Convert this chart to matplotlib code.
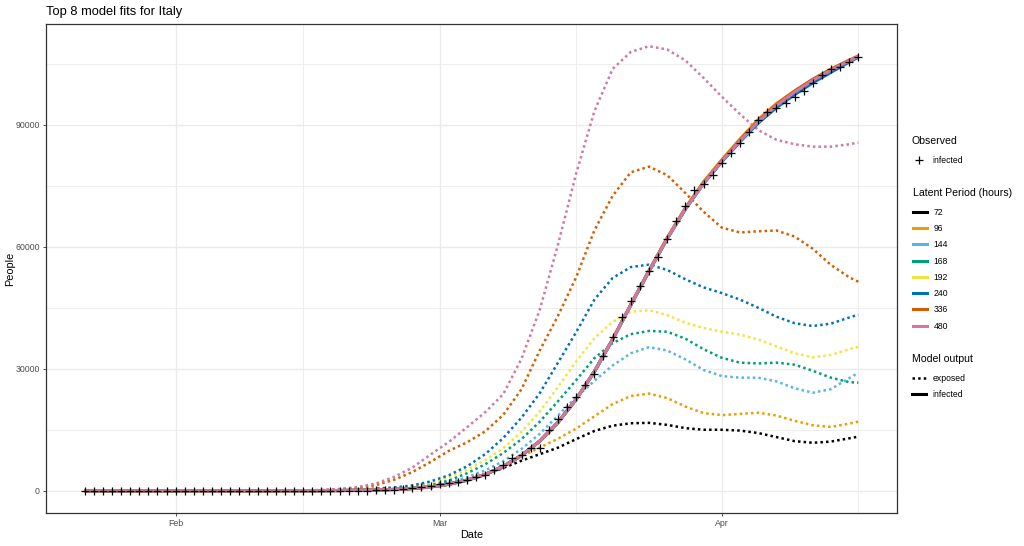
import matplotlib
matplotlib.use("Agg")
import matplotlib.pyplot as plt
import matplotlib.dates as mdates
from matplotlib.lines import Line2D
import numpy as np
import pandas as pd

plt.rcParams['font.family'] = ['Liberation Sans', 'DejaVu Sans']

# ---------------- data ----------------
obs_start = "2020-01-22"
obs_end = "2020-04-16"
observed_infected = [
    0, 0, 0, 0, 0, 0, 0, 0, 0, 2,            # Jan 22 - Jan 31
    2, 2, 2, 2, 2, 2, 3, 3, 3, 3,            # Feb 1 - Feb 10
    3, 3, 3, 3, 3, 3, 3, 3, 3, 3,            # Feb 11 - Feb 20
    19, 59, 150, 221, 311, 438, 593, 821, 1053,   # Feb 21 - Feb 29
    1577, 1835, 2263, 2706, 3296, 3916, 5061, 6387, 7985, 8794,   # Mar 1 - 10
    10590, 10590, 14955, 17750, 20603, 23073, 26062, 28710, 33190, 37860,  # Mar 11 - 20
    42681, 46638, 50418, 54030, 57521, 62013, 66414, 70065, 73880, 75528,  # Mar 21 - 30
    77635,                                                                 # Mar 31
    80572, 83049, 85388, 88274, 91246, 93187, 94067, 95262, 96877, 98273,  # Apr 1 - 10
    100269, 102253, 103616, 104291, 105418, 106607,                         # Apr 11 - 16
]

model_start = "2020-01-22"
model_last_regular = "2020-04-15"
model_final = "2020-04-16"

latent_periods = [72, 96, 144, 168, 192, 240, 336, 480]
latent_colors = ["#000000", "#E69F00", "#56B4E9", "#009E73",
                 "#F0E442", "#0072B2", "#D55E00", "#CC79A7"]

# exposed (dotted) model output, every 2 days Jan 22 .. Apr 15, then Apr 16
exposed_72 = [0, 0, 0, 0, 0, 0, 0, 0, 0, 5, 10, 20, 35, 60, 100, 170, 280, 450,
              700, 1200, 1900, 2800, 4000, 5600, 7400, 9000, 10600, 12700, 14700,
              16000, 16600, 16700, 16200, 15400, 15000, 15000, 14800, 14200, 13200,
              12200, 11800, 12100, 12900, 13300]
exposed_96 = [0, 0, 0, 0, 0, 0, 0, 0, 0, 5, 15, 30, 50, 80, 130, 220, 320, 450,
              600, 1000, 1700, 2700, 4000, 6000, 8500, 10600, 12800, 15300, 18300,
              21300, 23300, 23900, 22800, 20700, 19100, 18600, 18900, 19200, 18500,
              17200, 16100, 15700, 16500, 17000]
exposed_144 = [0, 0, 0, 0, 0, 0, 0, 0, 0, 5, 15, 30, 55, 90, 150, 250, 380, 560,
               800, 1250, 2000, 3300, 5000, 7300, 10300, 14000, 18500, 23000, 27000,
               30800, 33800, 35300, 34500, 32300, 29700, 28200, 27800, 27800, 26900,
               25200, 24100, 25000, 27700, 29000]
exposed_168 = [0, 0, 0, 0, 0, 0, 0, 0, 0, 5, 15, 30, 55, 95, 160, 270, 420, 650,
               950, 1500, 2500, 4300, 6500, 9300, 12700, 17000, 22000, 27200, 32600,
               36300, 38500, 39300, 39100, 37400, 34800, 32700, 31500, 31300, 31500,
               31000, 29500, 27800, 26700, 26600]
exposed_192 = [0, 0, 0, 0, 0, 0, 0, 0, 0, 5, 15, 30, 60, 100, 170, 290, 460, 720,
               1100, 1900, 3300, 5200, 7500, 10500, 14500, 19500, 25500, 31800, 37500,
               41500, 44000, 44400, 43200, 41300, 40000, 39100, 38400, 37200, 35500,
               33800, 32800, 33400, 34800, 35400]
exposed_240 = [0, 0, 0, 0, 0, 0, 0, 0, 0, 5, 15, 30, 60, 110, 190, 320, 520, 820,
               1300, 2300, 3800, 6000, 9000, 13000, 18000, 24000, 31500, 39000, 47000,
               52300, 55000, 55600, 54300, 52000, 50000, 48600, 47000, 45000, 42800,
               41200, 40500, 41100, 42600, 43300]
exposed_336 = [0, 0, 0, 0, 0, 0, 0, 0, 5, 10, 25, 50, 90, 150, 350, 700, 1400, 2700,
               4600, 7100, 9800, 11900, 14600, 18700, 25000, 34500, 43000, 52500, 64000,
               72500, 78300, 79700, 77600, 73200, 68600, 64700, 63500, 63800, 64000,
               62500, 59500, 55500, 52500, 51400]
exposed_480 = [0, 0, 0, 0, 0, 0, 0, 0, 5, 15, 30, 60, 110, 200, 450, 900, 1800, 3400,
               5700, 8900, 12000, 15600, 19300, 23800, 32500, 44500, 60500, 78000, 93300,
               103700, 107900, 109300, 108500, 105800, 101500, 96900, 92600, 88700,
               86300, 85200, 84600, 84600, 85200, 85600]

# infected (solid) model output, same dates
infected_72 = [0, 0, 0, 0, 0, 0, 0, 0, 0, 0, 5, 10, 20, 35, 60, 110, 190, 330,
               560, 950, 1600, 2600, 4000, 6000, 8700, 12200, 16800, 22500, 29300,
               37200, 45700, 54000, 62000, 69300, 75600, 81000, 86000, 90700, 94700,
               98000, 100900, 103400, 105700, 106800]
infected_96 = [0, 0, 0, 0, 0, 0, 0, 0, 0, 0, 5, 10, 20, 35, 60, 110, 190, 330,
               560, 950, 1600, 2600, 4000, 6000, 8700, 12200, 16800, 22500, 29300,
               37200, 45800, 54200, 62200, 69600, 76000, 81400, 86500, 91300, 95200,
               98300, 101100, 103500, 105800, 106800]
infected_144 = [0, 0, 0, 0, 0, 0, 0, 0, 0, 0, 5, 10, 20, 35, 60, 110, 190, 330,
                560, 950, 1600, 2600, 4000, 6000, 8700, 12200, 16800, 22500, 29300,
                37200, 45700, 54000, 62000, 69300, 75600, 81000, 86000, 90700, 94700,
                98000, 100800, 103300, 105600, 106700]
infected_168 = [0, 0, 0, 0, 0, 0, 0, 0, 0, 0, 5, 10, 20, 35, 60, 110, 190, 330,
                560, 950, 1600, 2600, 4000, 6000, 8700, 12200, 16800, 22500, 29300,
                37200, 45700, 54000, 62000, 69300, 75600, 81000, 86000, 90700, 94700,
                98000, 100900, 103400, 105700, 106800]
infected_192 = [0, 0, 0, 0, 0, 0, 0, 0, 0, 0, 5, 10, 20, 35, 60, 110, 190, 330,
                560, 950, 1600, 2600, 4000, 6000, 8700, 12200, 16800, 22500, 29300,
                37200, 45700, 54000, 62000, 69300, 75600, 81000, 86000, 90700, 94700,
                98000, 100900, 103400, 105700, 106800]
infected_240 = [0, 0, 0, 0, 0, 0, 0, 0, 0, 0, 5, 10, 20, 35, 60, 110, 190, 330,
                560, 950, 1600, 2600, 4000, 6000, 8700, 12200, 16800, 22500, 29300,
                37200, 45700, 54000, 62000, 69300, 75600, 80900, 85800, 90400, 94200,
                97400, 100300, 102900, 105400, 106600]
infected_336 = [0, 0, 0, 0, 0, 0, 0, 0, 0, 0, 5, 10, 20, 35, 60, 110, 190, 330,
                560, 950, 1600, 2600, 4000, 6000, 8700, 12200, 16800, 22500, 29300,
                37200, 45700, 54000, 62100, 69400, 75800, 81200, 86300, 91000, 95000,
                98300, 101200, 103700, 105900, 106900]
infected_480 = [0, 0, 0, 0, 0, 0, 0, 0, 0, 0, 5, 10, 20, 35, 60, 110, 190, 330,
                560, 950, 1600, 2600, 4000, 6000, 8700, 12200, 16800, 22500, 29300,
                37200, 45700, 54000, 62000, 69300, 75600, 81000, 86000, 90700, 94700,
                98000, 100900, 103400, 105700, 106800]

exposed_series = [exposed_72, exposed_96, exposed_144, exposed_168,
                  exposed_192, exposed_240, exposed_336, exposed_480]
infected_series = [infected_72, infected_96, infected_144, infected_168,
                   infected_192, infected_240, infected_336, infected_480]

x_tick_dates = ["2020-02-01", "2020-03-01", "2020-04-01"]
x_tick_labels = ["Feb", "Mar", "Apr"]
x_minor_dates = ["2020-02-15", "2020-03-16", "2020-04-16"]
y_ticks = [0, 30000, 60000, 90000]
y_minor = [15000, 45000, 75000, 105000]

title = "Top 8 model fits for Italy"
x_title = "Date"
y_title = "People"

# ---------------- figure ----------------
obs_dates = pd.date_range(obs_start, obs_end, freq="D")
model_dates = pd.date_range(model_start, model_last_regular, freq="2D").append(
    pd.DatetimeIndex([model_final]))

W, H = 1024, 546
ax_l, ax_r, ax_t, ax_b = 46, 897, 24, 513
fig = plt.figure(figsize=(W / 100, H / 100), dpi=100)
ax = fig.add_axes([ax_l / W, 1 - ax_b / H, (ax_r - ax_l) / W, (ax_b - ax_t) / H])

grid_c = "#EBEBEB"
ax.set_facecolor("white")

dot_style = (0, (1.0, 1.25))
for vals, col in zip(exposed_series, latent_colors):
    ax.plot(model_dates, vals, color=col, lw=1.8, linestyle=dot_style,
            dash_capstyle="butt", zorder=3)
for vals, col in zip(infected_series, latent_colors):
    ax.plot(model_dates, vals, color=col, lw=2.2, solid_capstyle="butt", zorder=4)
ax.plot(obs_dates, observed_infected, linestyle="none", marker="+", color="black",
        markersize=5.5, markeredgewidth=0.9, zorder=5)

# ticks first, limits afterwards (ggplot-like 5% expansion)
ax.set_xticks(mdates.date2num(pd.to_datetime(x_tick_dates)))
ax.set_xticklabels(x_tick_labels)
ax.set_xticks(mdates.date2num(pd.to_datetime(x_minor_dates)), minor=True)
ax.set_yticks(y_ticks)
ax.set_yticklabels([str(v) for v in y_ticks])
ax.set_yticks(y_minor, minor=True)

all_y = np.concatenate([np.asarray(observed_infected)] +
                       [np.asarray(v) for v in exposed_series + infected_series])
y0, y1 = all_y.min(), all_y.max()
ypad = 0.05 * (y1 - y0)
ax.set_ylim(y0 - ypad, y1 + ypad)
xn0 = mdates.date2num(obs_dates[0])
xn1 = mdates.date2num(obs_dates[-1])
xpad = 0.05 * (xn1 - xn0)
ax.set_xlim(xn0 - xpad, xn1 + xpad)

ax.grid(which="major", color=grid_c, lw=1.0, zorder=0)
ax.grid(which="minor", color=grid_c, lw=0.6, zorder=0)
ax.set_axisbelow(True)
ax.tick_params(which="major", length=2.5, width=0.6, color="#333333",
               labelsize=6.3, labelcolor="#4D4D4D")
ax.tick_params(axis="x", which="major", pad=2.0)
ax.tick_params(axis="y", which="major", pad=2.0)
ax.tick_params(which="minor", length=0)
for s in ax.spines.values():
    s.set_color("#333333")
    s.set_linewidth(0.9)

ax.set_xlabel(x_title, fontsize=7.8)
ax.set_ylabel(y_title, fontsize=7.8)
ax.xaxis.set_label_coords(0.5, -(535 - ax_b) / (ax_b - ax_t))
ax.yaxis.set_label_coords(-(ax_l - 10) / (ax_r - ax_l), 0.5)
ax.xaxis.label.set_va("center")
ax.yaxis.label.set_va("center")
fig.text(ax_l / W, 1 - 12 / H, title, fontsize=9.3, va="center", ha="left")

# ---------------- legends ----------------
leg_kw = dict(frameon=False, loc="upper left", fontsize=6.2, title_fontsize=7.6,
              handlelength=1.6, handletextpad=0.8, labelspacing=0.84,
              borderpad=0, borderaxespad=0, alignment="left")


def add_legend(handles, labels, title_text, x_px, y_px):
    leg = fig.legend(handles, labels, title=title_text,
                     bbox_to_anchor=(x_px / W, 1 - y_px / H), **leg_kw)
    leg._legend_box.sep = 7.2
    return leg


h_obs = [Line2D([], [], linestyle="none", marker="+", color="black",
                markersize=5.5, markeredgewidth=0.9)]
add_legend(h_obs, ["infected"], "Observed", 912, 136)

h_lat = [Line2D([], [], color=c, lw=2.2) for c in latent_colors]
add_legend(h_lat, [str(p) for p in latent_periods], "Latent Period (hours)", 913, 188)

h_mod = [Line2D([], [], color="black", lw=1.8, linestyle=dot_style, dash_capstyle="butt"),
         Line2D([], [], color="black", lw=2.2)]
add_legend(h_mod, ["exposed", "infected"], "Model output", 912, 354)

fig.savefig("out.png", dpi=100)
